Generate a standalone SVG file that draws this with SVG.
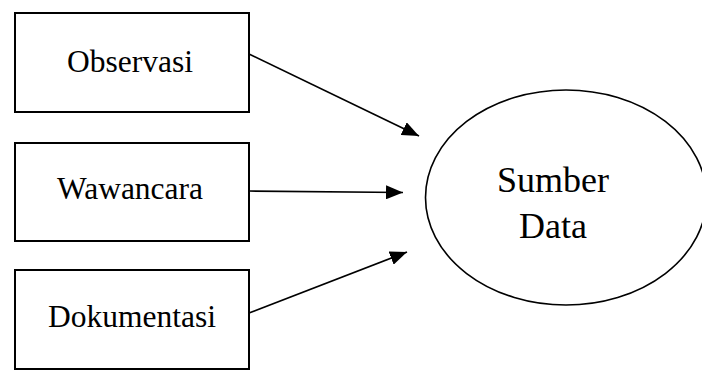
<svg xmlns="http://www.w3.org/2000/svg" width="702" height="371" viewBox="0 0 702 371">
  <style>
    .box { fill: #fff; stroke: #000; stroke-width: 2; }
    .oval { fill: #fff; stroke: #000; stroke-width: 1.6; }
    .lbl { font-family: "Liberation Serif", "Times New Roman", serif; font-size: 31.5px; fill: #000; text-anchor: middle; }
    .big { font-size: 36px; }
    .edge { stroke: #000; stroke-width: 1.7; fill: none; marker-end: url(#head); }
  </style>
  <defs>
    <marker id="head" markerUnits="userSpaceOnUse" markerWidth="18" markerHeight="14" refX="17" refY="7" orient="auto">
      <path d="M0,0 L17,7 L0,14 Z" fill="#000"/>
    </marker>
  </defs>
  <rect width="702" height="371" fill="#fff"/>

  <g id="observasi">
    <rect class="box" x="15" y="13" width="234" height="99"/>
    <text class="lbl" x="130" y="72">Observasi</text>
  </g>
  <g id="wawancara">
    <rect class="box" x="15" y="143" width="234" height="98"/>
    <text class="lbl" x="130" y="199">Wawancara</text>
  </g>
  <g id="dokumentasi">
    <rect class="box" x="15" y="270" width="234" height="99"/>
    <text class="lbl" x="132" y="327">Dokumentasi</text>
  </g>
  <g id="sumber-data">
    <ellipse class="oval" cx="566" cy="197.5" rx="140.5" ry="107.5"/>
    <text class="lbl big" x="553" y="192">Sumber</text>
    <text class="lbl big" x="553" y="238">Data</text>
  </g>

  <g id="connectors">
    <line class="edge" x1="249" y1="54" x2="419" y2="136"/>
    <line class="edge" x1="249" y1="191" x2="403" y2="192.5"/>
    <line class="edge" x1="249" y1="313" x2="407" y2="252"/>
  </g>
</svg>
